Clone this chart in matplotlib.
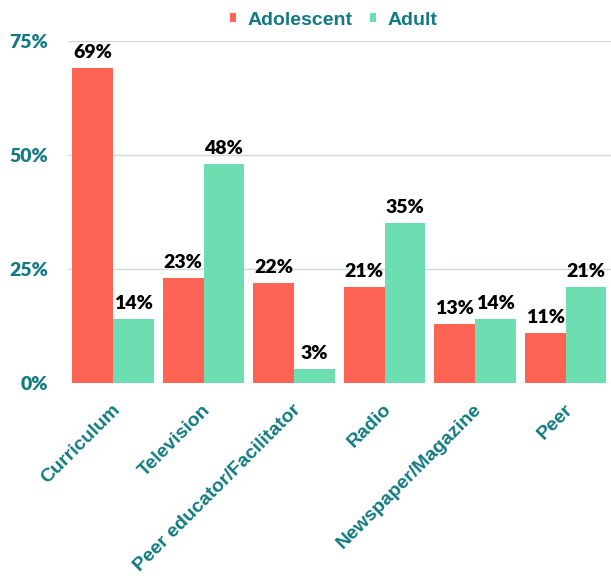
import matplotlib.pyplot as plt
import numpy as np

categories = ["Curriculum", "Television", "Peer educator/Facilitator", "Radio",
              "Newspaper/Magazine", "Peer"]
adolescent = [69, 23, 22, 21, 13, 11]
adult = [14, 48, 3, 35, 14, 21]
y_ticks = [0, 25, 50, 75]

RED = "#FF6354"
GREEN = "#6DDDB2"
TEAL = "#127A82"

fig = plt.figure(figsize=(6.11, 5.81), dpi=100)
ax = fig.add_axes([0.111, 0.3408, 0.889, 0.5886])

x = np.arange(len(categories))
w = 0.45
b1 = ax.bar(x - w / 2, adolescent, w, color=RED, label="Adolescent", zorder=3)
b2 = ax.bar(x + w / 2, adult, w, color=GREEN, label="Adult", zorder=3)

for bars, vals in ((b1, adolescent), (b2, adult)):
    for r, v in zip(bars, vals):
        ax.annotate(f"{v}%", (r.get_x() + r.get_width() / 2, v),
                    xytext=(0, 5), textcoords="offset points",
                    ha="center", va="bottom", fontsize=14, fontweight="heavy",
                    family="Lato", color="black")

ax.set_xlim(-0.5, len(categories) - 0.5)
ax.set_ylim(0, 75)
ax.set_yticks(y_ticks)
ax.set_yticklabels([f"{t}%" for t in y_ticks], fontsize=14, fontweight="heavy",
                   color=TEAL, family="Lato")
ax.set_xticks(x - 0.02)
ax.set_xticklabels(categories, rotation=45, ha="right", rotation_mode="anchor",
                   fontsize=14, fontweight="bold", color=TEAL,
                   family="Liberation Sans")
ax.tick_params(axis="both", length=0)
ax.tick_params(axis="y", pad=14)
ax.tick_params(axis="x", pad=13)
ax.yaxis.grid(True, color="#D0D8DA", linewidth=1, zorder=0)
for s in ax.spines.values():
    s.set_visible(False)

leg = ax.legend(loc="lower center", bbox_to_anchor=(0.49, 0.985), ncol=2,
                frameon=False, handlelength=0.3, handleheight=0.3,
                handletextpad=0.6, columnspacing=0.9,
                prop={"family": "Liberation Sans", "weight": "bold", "size": 14})
for t in leg.get_texts():
    t.set_color(TEAL)

fig.savefig("out.png", dpi=100)
